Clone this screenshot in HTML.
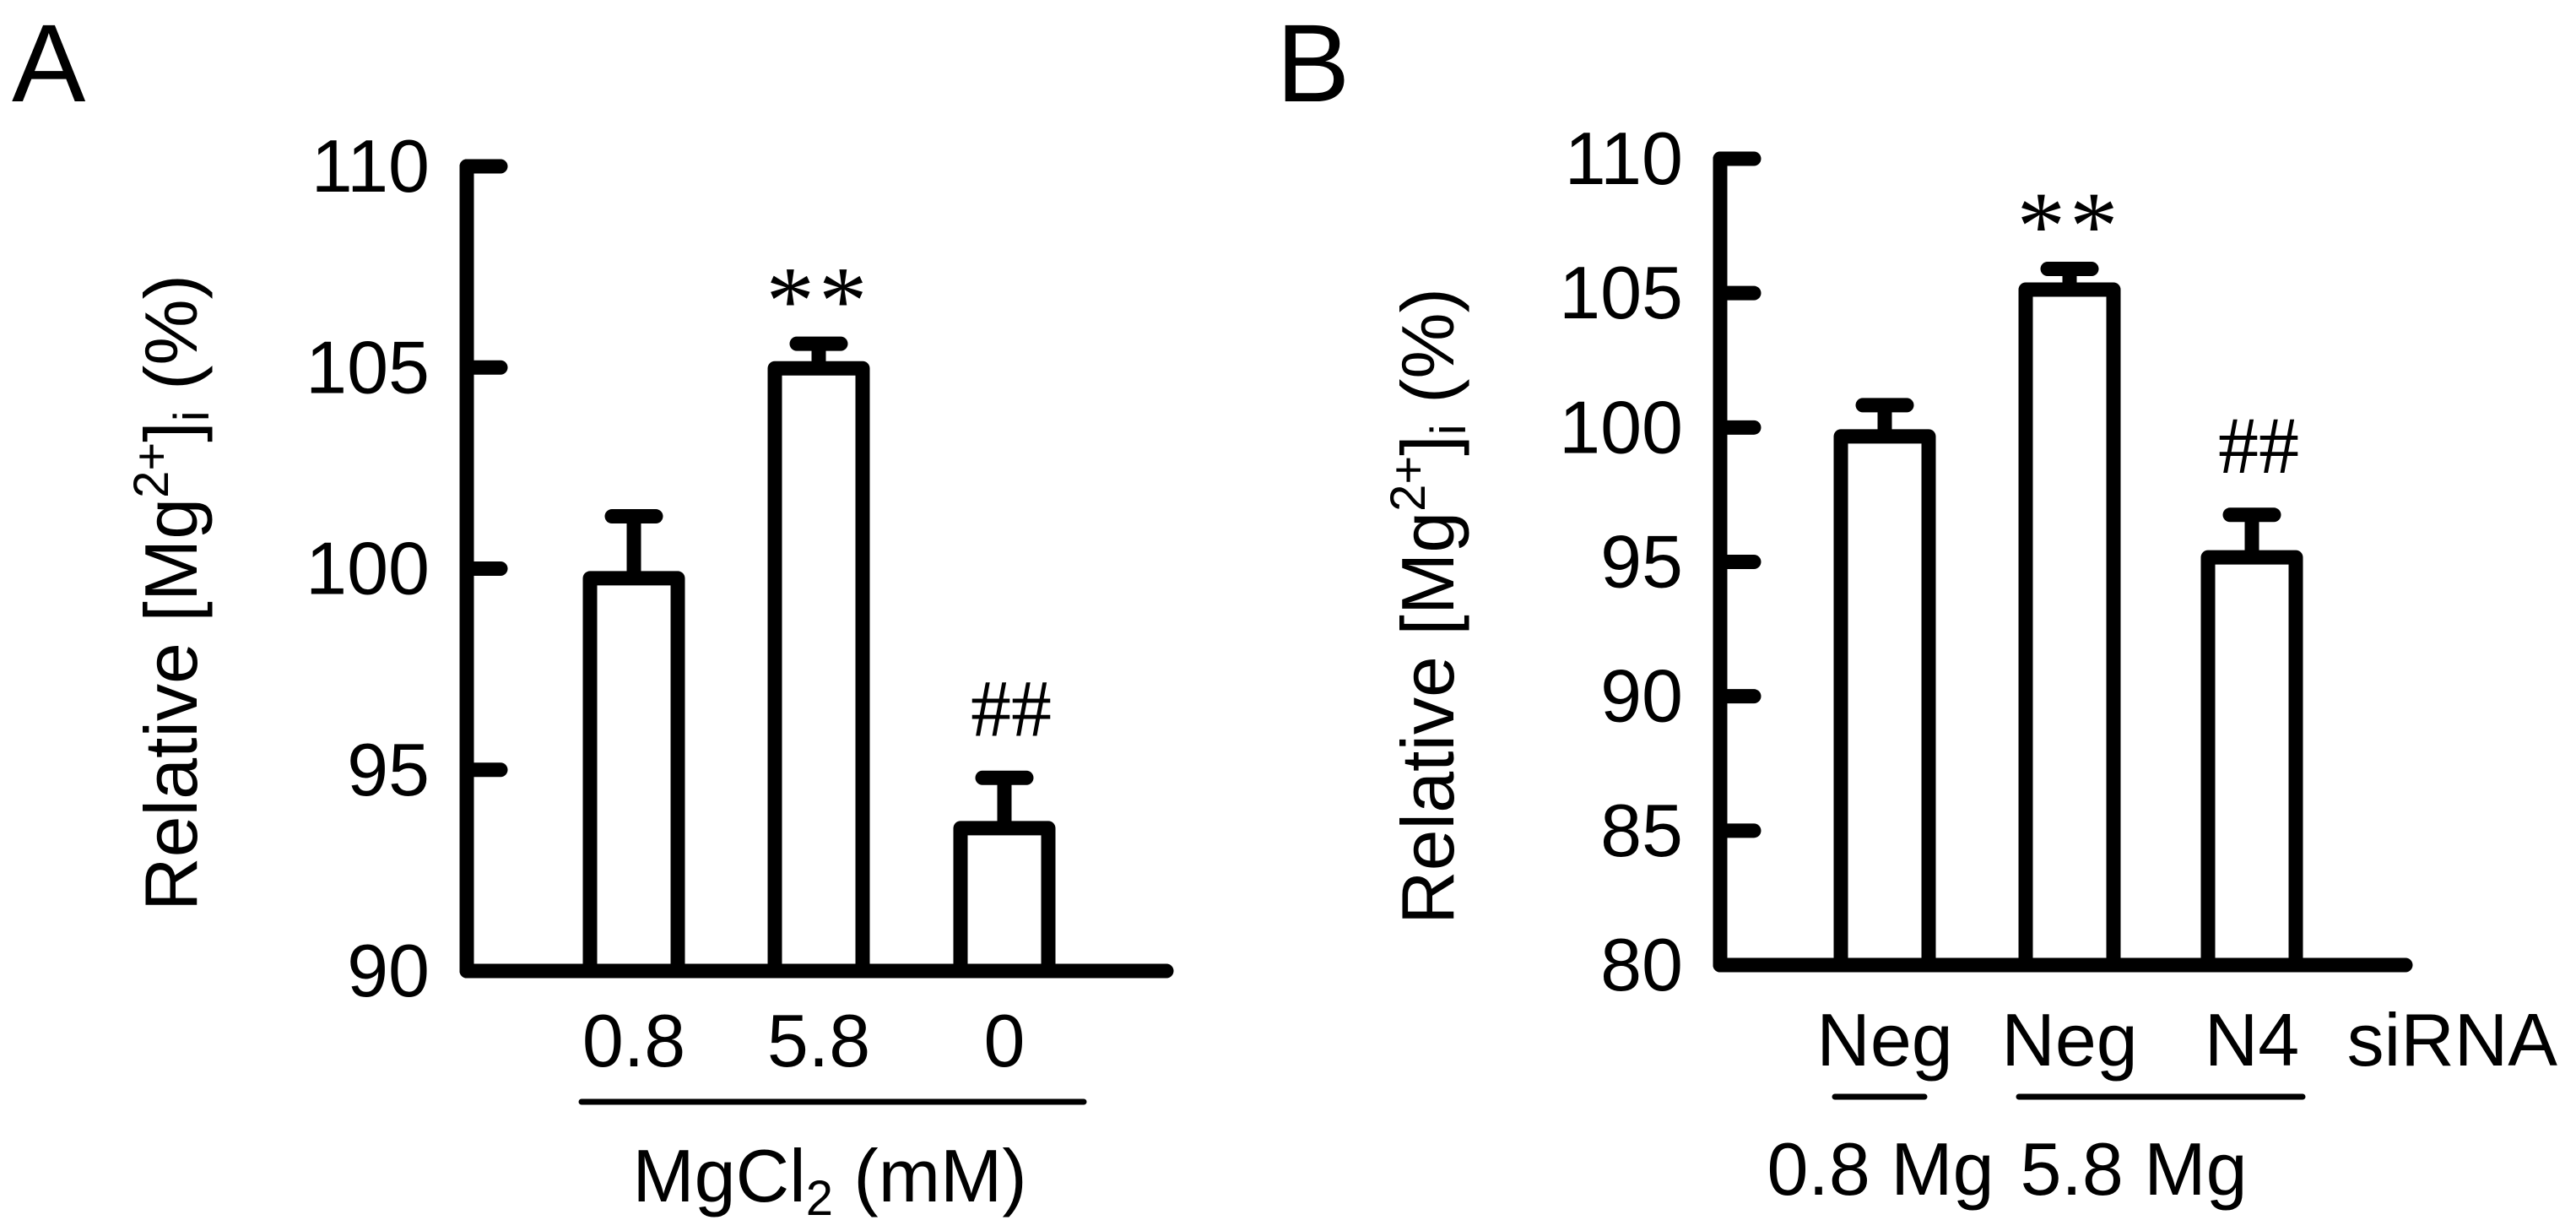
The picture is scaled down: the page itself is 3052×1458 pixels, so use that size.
<!DOCTYPE html>
<html><head><meta charset="utf-8"><style>
html,body{margin:0;padding:0;background:#fff;}
svg{display:block;font-family:"Liberation Sans",Arial,sans-serif;}
</style></head><body>
<svg id="fig" width="3052" height="1458" viewBox="0 0 3052 1458">
<text x="14" y="120" font-size="131">A</text>
<text x="1512" y="120" font-size="131">B</text>
<g id="pa"></g>
<g id="pb"></g>
</svg>
<script>
const catsA=["0.8","5.8","0"];
const valsA=[99.76,104.98,93.55];
const errA=[1.54,0.61,1.25];
const marksA=["","**","##"];
const ticksA=[90,95,100,105,110];
const catsB=["Neg","Neg","N4"];
const valsB=[99.67,105.13,95.17];
const errB=[1.16,0.77,1.58];
const marksB=["","**","##"];
const ticksB=[80,85,90,95,100,105,110];
const NS="http://www.w3.org/2000/svg";
function mk(p,t,a){const e=document.createElementNS(NS,t);for(const k in a)e.setAttribute(k,a[k]);p.appendChild(e);return e;}
function panel(g,cfg){
  const y=v=>cfg.y0+(v-cfg.min)/(cfg.max-cfg.min)*(cfg.y1-cfg.y0);
  const SW=17;
  const ax=mk(g,'line',{x1:cfg.ax,y1:y(cfg.max),x2:cfg.ax,y2:cfg.y0,stroke:'#000','stroke-width':SW,'stroke-linecap':'round'});
  
  
  const xa=mk(g,'line',{x1:cfg.ax,y1:cfg.y0,x2:cfg.xend,y2:cfg.y0,stroke:'#000','stroke-width':SW,'stroke-linecap':'round'});
  
  
  cfg.ticks.forEach(t=>{
    const tl=mk(g,'line',{x1:cfg.ax,y1:y(t),x2:cfg.ax+40,y2:y(t),stroke:'#000','stroke-width':SW,'stroke-linecap':'round'});
    
    
    const tx=mk(g,'text',{x:cfg.ax-44,y:y(t)+30,'font-size':88,'text-anchor':'end'});
    tx.textContent=t;
    
    
  });
  cfg.vals.forEach((v,i)=>{
    const cx=cfg.cx[i];
    const top=y(v+cfg.err[i]);
    const e=mk(g,'line',{x1:cx,y1:y(v),x2:cx,y2:top,stroke:'#000','stroke-width':SW});
    
    
    const c=mk(g,'line',{x1:cx-26,y1:top,x2:cx+26,y2:top,stroke:'#000','stroke-width':SW,'stroke-linecap':'round'});
    
    
    const r=mk(g,'rect',{x:cx-52,y:y(v),width:104,height:cfg.y0-y(v),fill:'#fff',stroke:'#000','stroke-width':SW,'stroke-linejoin':'round'});
    
    
    const lb=mk(g,'text',{x:cx,y:cfg.labY,'font-size':88,'text-anchor':'middle'});
    lb.textContent=cfg.cats[i];
    
    
    if(cfg.marks[i]=='**'){
      const m=mk(g,'text',{x:cx,y:top-12,'font-size':115,'text-anchor':'middle','font-family':'Liberation Serif','letter-spacing':5});
      m.textContent='**';
      
      
    } else if(cfg.marks[i]=='##'){
      const m=mk(g,'text',{x:cx+8,y:top-50,'font-size':96,'text-anchor':'middle','font-family':'Liberation Serif'});
      m.textContent='##';
      
      
    }
  });
  const yt=mk(g,'text',{transform:`translate(${cfg.tx},${cfg.ty}) rotate(-90)`,'font-size':88,'text-anchor':'middle'});
  yt.innerHTML='Relative [Mg<tspan dy="-34" font-size="58">2+</tspan><tspan dy="34">]</tspan><tspan dy="14" font-size="58">i</tspan><tspan dy="-14"> (%)</tspan>';
  
  
}
panel(document.getElementById('pa'),{min:90,max:110,y0:1150,y1:197,ax:553,xend:1382,cx:[751,970,1190],vals:valsA,err:errA,cats:catsA,marks:marksA,ticks:ticksA,labY:1263,tx:233,ty:702});
panel(document.getElementById('pb'),{min:80,max:110,y0:1143,y1:188,ax:2038,xend:2850,cx:[2233,2452,2668],vals:valsB,err:errB,cats:catsB,marks:marksB,ticks:ticksB,labY:1262,tx:1722,ty:718});
const svg=document.getElementById('fig');
function line(x1,y1,x2,y2,n){const l=mk(svg,'line',{x1,y1,x2,y2,stroke:'#000','stroke-width':7,'stroke-linecap':'round'});}
function txt(x,y,s,html,n,a){const t=mk(svg,'text',{x,y,'font-size':s,'text-anchor':a||'middle'});t.innerHTML=html;}
line(689,1305,1284,1305,'group-underline');
txt(983,1423,88,'MgCl<tspan dy="16" font-size="58">2</tspan><tspan dy="-16"> (mM)</tspan>','x-axis-title');
txt(3030,1262,88,'siRNA','sirna-label','end');
line(2174,1299,2280,1299,'group-underline-0-8');
line(2392,1299,2728,1299,'group-underline-5-8');
txt(2228,1415,88,'0.8 Mg','group-label-0-8');
txt(2528,1415,88,'5.8 Mg','group-label-5-8');
</script>
</body></html>
